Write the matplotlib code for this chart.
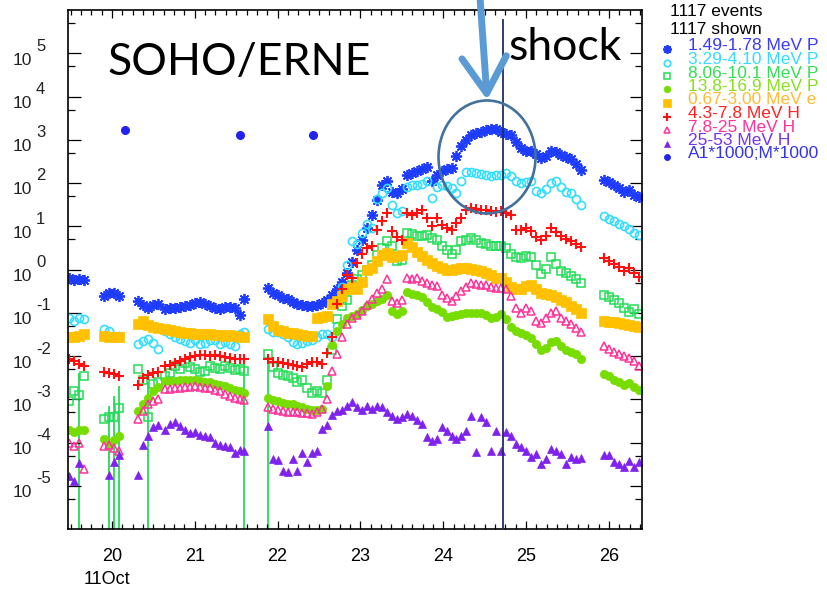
import numpy as np
import matplotlib
matplotlib.use("Agg")
import matplotlib.pyplot as plt
from matplotlib.lines import Line2D
from matplotlib.patches import Ellipse
from matplotlib.ticker import FixedLocator, NullFormatter

plt.rcParams['font.family'] = ['Liberation Sans', 'DejaVu Sans']

# time grid (days of Oct): segments of 1.44 h samples, gaps between segments
seg_start = [19.48, 19.90, 20.32, 20.64, 21.88, 25.94]
seg_count = [4, 4, 5, 17, 64, 8]
cadence = 0.06

# log10 of the intensities, one value per time sample (nan = no data)
p1_49 = [-0.20, -0.25, -0.22, -0.25,
         -0.61, -0.55, -0.54, -0.61,
         -0.73, -0.81, -0.88, -0.81, -0.80,
         -0.91, -0.89, -0.88, -0.86, -0.84, -0.81, -0.78, -0.75, -0.79, -0.84, -0.88, -0.92, -0.87, -0.86, -0.90, -1.05, -0.68,
         -0.42, -0.55, -0.60, -0.65, -0.69, -0.74, -0.80, -0.82, -0.84, -0.85,
         -0.82, -0.78, -0.70, -0.58, -0.45, -0.28, -0.08, 0.18, 0.45, 0.68,
         0.95, 1.25, 1.60, 1.95, 2.05, 1.80, 1.77, 1.85, 2.18, 2.22,
         2.28, 2.32, 2.38, 2.04, 2.18, 2.28, 2.32, 2.35, 2.62, 2.85,
         3.00, 3.10, 3.15, 3.19, 3.22, 3.26, 3.24, 3.19, 3.14, 3.11,
         2.95, 2.80, 2.75, 2.73, 2.68, 2.57, 2.63, 2.74, 2.72, 2.64,
         2.61, 2.55, 2.45, 2.30,
         2.07, 2.02, 1.96, 1.88, 1.80, 1.84, 1.72, 1.67]
p3_29 = [-1.12, -1.18, -1.12, -1.15,
         -1.38, -1.42, -1.54, -1.54,
         -1.73, -1.66, -1.61, -1.69, -1.84,
         -1.42, -1.50, -1.56, -1.61, -1.66, -1.69, -1.62, -1.72, -1.70, -1.63, -1.62, -1.72, -1.68, -1.72, -1.76, -1.50, -1.45,
         -1.38, -1.44, -1.44, -1.50, -1.56, -1.68, -1.72, -1.70, -1.66, -1.62,
         -1.55, -1.48, -1.50, -1.55, -1.30, -0.40, 0.10, 0.65, 0.60, 0.85,
         1.05, 0.95, 1.62, 1.78, 1.88, 1.50, 1.30, 1.35, 1.90, 1.96,
         1.96, 1.98, 2.04, 1.65, 1.90, 1.96, 1.93, 1.88, 1.77, 2.05,
         2.25, 2.26, 2.23, 2.20, 2.19, 2.16, 2.18, 2.19, 2.22, 2.16,
         2.05, 2.00, 2.02, 2.04, 1.82, 1.78, 1.86, 2.00, 2.04, 1.90,
         1.80, 1.76, 1.62, 1.48,
         1.23, 1.17, 1.11, 1.06, 1.00, 0.93, 0.84, 0.79]
p8_06 = [-3.05, -2.80, -2.90, -2.46,
         -3.45, -3.42, -3.40, -3.20,
         -2.30, -2.55, -3.40, -2.65, -2.60,
         -2.46, -2.40, -2.22, -2.30, -2.16, -2.25, -2.30, -2.38, -2.34, -2.23, -2.28, -2.30, -2.22, -2.28, -2.32, -2.30, -2.34,
         -1.96, -2.25, -2.40, -2.44, -2.47, -2.50, -2.60, -2.55, -2.75, -2.85,
         -2.80, -2.85, -2.55, -1.85, -1.15, -0.84, -0.70, -0.35, -0.22, -0.12,
         0.00, 0.10, 0.33, 0.50, 0.65, 0.55, 0.20, 0.23, 0.85, 0.82,
         0.78, 0.78, 0.80, 0.73, 0.69, 0.55, 0.45, 0.35, 0.45, 0.65,
         0.69, 0.73, 0.68, 0.61, 0.58, 0.55, 0.54, 0.54, 0.50, 0.35,
         0.29, 0.27, 0.31, 0.28, 0.10, -0.10, 0.02, 0.30, 0.12, -0.03,
         -0.08, -0.14, -0.22, -0.32,
         -0.58, -0.63, -0.70, -0.78, -0.88, -0.98, -0.92, -1.02]
p13_8 = [-3.70, -3.75, -3.72, -3.72,
         -3.92, -4.00, -3.95, -3.85,
         -3.28, -3.10, -2.96, -2.80, -2.72,
         -2.58, -2.57, -2.57, -2.56, -2.55, -2.55, -2.56, -2.57, -2.59, -2.61, -2.64, -2.66, -2.70, -2.74, -2.78, -2.82, -2.85,
         -2.96, -3.02, -3.05, -3.08, -3.10, -3.12, -3.15, -3.18, -3.22, -3.25,
         -3.26, -3.22, -2.70, -1.75, -1.42, -1.25, -1.12, -1.08, -1.02, -0.94,
         -0.85, -0.80, -0.72, -0.68, -0.60, -0.95, -1.04, -0.95, -0.52, -0.56,
         -0.60, -0.64, -0.75, -0.87, -0.92, -0.99, -1.10, -1.07, -1.05, -1.02,
         -1.00, -1.00, -1.00, -1.00, -1.05, -1.12, -1.10, -1.04, -1.15, -1.33,
         -1.42, -1.46, -1.52, -1.58, -1.72, -1.86, -1.82, -1.68, -1.66, -1.78,
         -1.86, -1.90, -1.95, -2.07,
         -2.42, -2.47, -2.55, -2.61, -2.67, -2.62, -2.72, -2.78]
e0_67 = [-1.55, -1.56, -1.53, -1.50,
         -1.54, -1.57, -1.57, -1.55,
         -1.27, -1.20, -1.28, -1.34, -1.36,
         -1.38, -1.40, -1.43, -1.45, -1.46, -1.47, -1.49, -1.50, -1.50, -1.50, -1.51, -1.52, -1.53, -1.52, -1.53, -1.55, -1.55,
         -1.15, -1.30, -1.40, -1.43, -1.46, -1.47, -1.50, -1.52, -1.54, -1.53,
         -1.12, -1.10, -1.08, -0.80, -0.72, -0.62, -0.45, -0.40, -0.45, -0.30,
         -0.02, 0.04, 0.20, 0.33, 0.38, 0.28, 0.31, 0.33, 0.62, 0.52,
         0.40, 0.32, 0.22, 0.14, 0.08, 0.04, 0.00, 0.00, 0.02, 0.04,
         0.04, 0.01, -0.02, -0.04, -0.07, -0.12, -0.19, -0.20, -0.28, -0.40,
         -0.45, -0.46, -0.38, -0.36, -0.45, -0.54, -0.57, -0.60, -0.64, -0.70,
         -0.76, -0.84, -0.92, -1.00,
         -1.19, -1.21, -1.22, -1.24, -1.26, -1.28, -1.30, -1.33]
h4_3 = [-2.07, -2.11, -2.19, -2.24,
        -2.38, -2.39, -2.42, -2.46,
        -2.68, -2.52, -2.45, -2.40, -2.38,
        -2.24, -2.20, -2.16, -2.12, -2.06, -2.03, -2.00, -1.98, -1.98, -2.00, -1.98, -2.00, -2.02, -2.05, -2.07, -2.07, -2.08,
        -2.07, -2.13, -2.15, -2.17, -2.19, -2.20, -2.22, -2.25, -2.18, -2.15,
        -2.15, -2.18, -1.92, -1.55, -0.80, -0.46, -0.12, -0.20, 0.15, 0.35,
        0.50, 0.54, 0.92, 1.12, 1.30, 0.90, 0.75, 0.69, 1.30, 1.27,
        1.31, 1.38, 1.19, 1.00, 1.19, 1.04, 0.96, 0.92, 1.08, 1.19,
        1.38, 1.42, 1.40, 1.38, 1.37, 1.35, 1.34, 1.36, 1.30, 1.25,
        0.92, 0.92, 0.95, 0.90, 0.76, 0.69, 0.78, 0.96, 0.86, 0.77,
        0.70, 0.66, 0.58, 0.52,
        0.27, 0.19, 0.12, 0.05, -0.04, 0.04, -0.08, -0.17]
h7_8 = [-4.02, -4.07, -4.00, -4.61,
        -4.07, -4.05, -4.12, -4.19,
        -3.45, -3.28, -3.10, -3.03, -3.00,
        -2.77, -2.76, -2.75, -2.73, -2.72, -2.71, -2.70, -2.71, -2.73, -2.75, -2.78, -2.82, -2.87, -2.92, -2.96, -3.00, -3.02,
        -3.19, -3.22, -3.25, -3.27, -3.29, -3.30, -3.30, -3.31, -3.32, -3.33,
        -3.30, -3.23, -3.00, -2.35, -1.95, -1.55, -1.25, -1.12, -1.05, -0.95,
        -0.82, -0.69, -0.54, -0.45, -0.22, -0.73, -0.77, -0.70, -0.19, -0.23,
        -0.20, -0.26, -0.31, -0.35, -0.38, -0.58, -0.65, -0.73, -0.62, -0.50,
        -0.40, -0.32, -0.33, -0.35, -0.36, -0.40, -0.42, -0.42, -0.46, -0.62,
        -0.90, -1.00, -0.88, -0.95, -1.18, -1.23, -1.12, -1.00, -0.96, -1.12,
        -1.19, -1.26, -1.35, -1.44,
        -1.77, -1.83, -1.90, -1.96, -2.00, -2.04, -2.12, -2.22]
h25 = [-4.78, -4.88, -4.47, np.nan,
       np.nan, -4.76, -4.45, -4.30,
       -4.76, -4.05, -3.85, -3.65, -3.60,
       -3.70, -3.58, -3.53, -3.62, -3.70, -3.78, -3.76, -3.82, -3.85, -3.88, -4.00, -4.05, -4.08, -4.10, -4.25, -4.18, -4.20,
       -3.61, -4.38, -4.40, -4.65, -4.68, -4.38, -4.66, -4.25, -4.45, -4.24,
       -4.20, -3.69, -3.60, -3.36, -3.28, -3.24, -3.15, -3.07, -3.19, -3.26,
       -3.15, -3.23, -3.15, -3.19, -3.30, -3.38, -3.46, -3.42, -3.34, -3.38,
       -3.49, -3.57, -3.88, -3.96, -3.92, -3.65, -3.73, -3.84, -3.92, -3.84,
       -3.73, -3.38, -4.22, -3.42, -3.53, -4.19, -3.73, -4.19, -3.75, -3.84,
       -4.03, -4.11, -4.19, -4.34, -4.26, -4.49, -4.38, -4.15, -4.19, -4.26,
       -4.49, -4.34, -4.38, -4.36,
       -4.30, -4.30, -4.45, -4.50, -4.57, -4.42, -4.57, -4.46]

# A1*1000 / M*1000 points
a1_days = [20.16, 21.55, 22.43]
a1_log = [3.23, 3.11, 3.11]

# 8.06-10.1 MeV points whose error bar reaches down to zero
green_bar_days = [19.60, 19.96, 20.02, 20.08, 20.44, 21.60, 21.88]
green_bar_top = [-2.40, -3.15, -2.92, -2.69, -2.60, -2.07, -2.00]

shock_day = 24.72

labels = ["1.49-1.78 MeV P", "3.29-4.10 MeV P", "8.06-10.1 MeV P", "13.8-16.9 MeV P",
          "0.67-3.00 MeV e", "4.3-7.8 MeV H", "7.8-25 MeV H", "25-53 MeV H", "A1*1000;M*1000"]
colors = ['#1e3cff', '#33ddff', '#22dd55', '#77dd00', '#ffc000', '#ff1111', '#ff3399', '#7f22ee', '#2222ee']
text_colors = ['#3a3aff', '#33ddff', '#33e055', '#88e020', '#ffbb33', '#ff2222', '#ff3399', '#7733ee', '#3333ee']

days = np.concatenate([s + cadence * np.arange(n) for s, n in zip(seg_start, seg_count)])
series = [p1_49, p3_29, p8_06, p13_8, e0_67, h4_3, h7_8, h25]

# marker styles (marker, size, filled, edge width)
styles = [((8, 2, 0), 8, True, 1.3), ('o', 5.8, False, 1.2), ('s', 5.4, False, 1.1), ('o', 6.0, True, 0.5),
          ('s', 6.6, True, 0.5), ('+', 7.5, True, 1.5), ('^', 6.2, False, 1.1), ('^', 6.0, True, 0.5), ('o', 5.5, True, 0.5)]

fig = plt.figure(figsize=(8.28, 5.89), dpi=100)
ax = fig.add_axes([68 / 828, 1 - 529 / 589, (642 - 68) / 828, (529 - 10) / 589])

# error bars of the low-count green channel
ax.vlines(green_bar_days, 1e-7, 10 ** np.array(green_bar_top), color='#22dd55', lw=1.3, zorder=1)

for vals, col, (mk, ms, filled, mew) in zip(series, colors, styles):
    ax.plot(days, 10 ** np.array(vals), ls='none', marker=mk, ms=ms, mew=mew,
            mec=col, mfc=col if filled else 'none', zorder=2)
ax.plot(a1_days, 10 ** np.array(a1_log), ls='none', marker='o', ms=5.5, mec=colors[8], mfc=colors[8], zorder=2)

ax.axvline(shock_day, ymin=0, ymax=0.981, color='#1f2f66', lw=1.3, zorder=3)

ax.set_yscale('log')
ax.set_ylim(1e-6, 1e6)
ax.set_xlim(19.469, 26.40)
ax.yaxis.set_major_locator(FixedLocator([10.0 ** k for k in range(-5, 6)]))
ax.yaxis.set_minor_locator(FixedLocator([5 * 10.0 ** k for k in range(-6, 6)]))
ax.yaxis.set_major_formatter(NullFormatter())
ax.yaxis.set_minor_formatter(NullFormatter())
ax.set_xticks(range(20, 27))
ax.set_xticks(np.arange(19.5, 26.41, 0.125), minor=True)
ax.set_xticklabels([str(d) for d in range(20, 27)], fontsize=13)
ax.tick_params(which='both', direction='in', top=True, right=True, width=0.9, color='black')
ax.tick_params(axis='x', which='major', length=6, pad=14)
ax.tick_params(axis='x', which='minor', length=3.5)
ax.tick_params(axis='y', which='major', length=9)
ax.tick_params(axis='y', which='minor', length=5)
for sp in ax.spines.values():
    sp.set_linewidth(1.2)

# "10" with a raised exponent, like the original plot program
for k in range(-5, 6):
    ax.annotate('10', xy=(0, 10.0 ** k), xycoords=('axes fraction', 'data'), xytext=(-36, -7),
                textcoords='offset pixels', ha='right', va='center', fontsize=12.5, color='#222222')
    ax.annotate(str(k), xy=(0, 10.0 ** k), xycoords=('axes fraction', 'data'), xytext=(-32, 7),
                textcoords='offset pixels', ha='left', va='center', fontsize=12, color='#222222')
ax.annotate('11Oct', xy=(19.94, 0), xycoords=('data', 'axes fraction'), xytext=(0, -50),
            textcoords='offset pixels', ha='center', va='center', fontsize=13)

# legend drawn the way the original program lays it out
fig.text(670 / 828, 1 - 12 / 589, '1117 events', fontsize=12.5, va='center', ha='left')
fig.text(670 / 828, 1 - 29 / 589, '1117 shown', fontsize=12.5, va='center', ha='left')
for i, (lab, col, tcol, (mk, ms, filled, mew)) in enumerate(zip(labels, colors, text_colors, styles)):
    ty = 46 + 13.5 * i
    fig.text(688 / 828, 1 - ty / 589, lab, fontsize=12.5, color=tcol, va='center', ha='left')
    fig.add_artist(Line2D([667 / 828], [1 - (ty + 3) / 589], transform=fig.transFigure, ls='none',
                          marker=mk, ms=ms * 0.8, mew=mew, mec=col, mfc=col if filled else 'none'))

# annotations added on the slide
fig.text(107 / 828, 1 - 75 / 589, 'SOHO/ERNE', fontsize=32, family='Lato', va='baseline', ha='left')
fig.text(508 / 828, 1 - 60 / 589, 'shock', fontsize=32, family='Lato', va='baseline', ha='left')
ax.add_patch(Ellipse((0.730, 0.7168), 0.169, 0.2177, transform=ax.transAxes, fill=False,
                     ec='#41719c', lw=1.9, zorder=4, clip_on=False))
ax.annotate('', xy=(24.53, 10 ** 3.92), xytext=(24.44, 10 ** 6.4), annotation_clip=False,
            arrowprops=dict(arrowstyle='->,head_length=1.3,head_width=0.8', color='#5b9bd5', lw=5,
                            mutation_scale=20, shrinkA=0, shrinkB=0))

fig.savefig('out.png', dpi=100)
